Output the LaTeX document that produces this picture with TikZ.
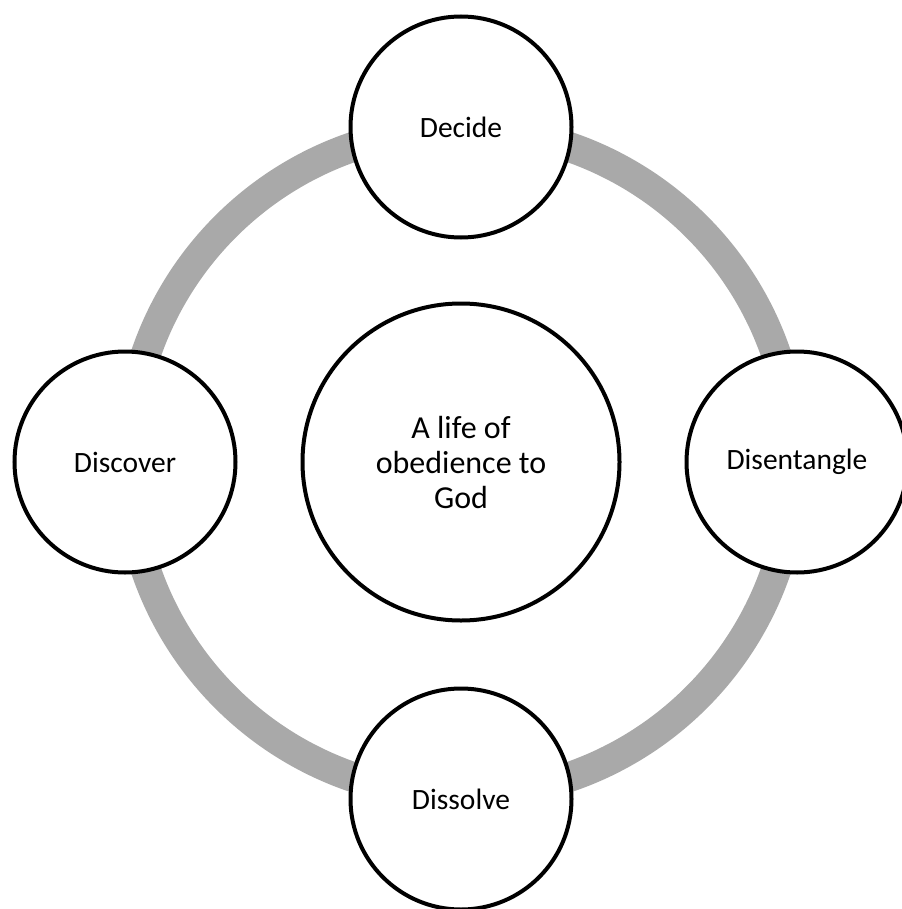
\documentclass[tikz,border=0pt]{standalone}
\usepackage{fontspec}
\setmainfont{Carlito}
\usepackage{tikz}
\usetikzlibrary{positioning}
\definecolor{ringgray}{RGB}{169,169,169}

\begin{document}
\begin{tikzpicture}[
    x=1pt, y=-1pt,
    font=\fontsize{29.5}{35}\selectfont,
    stage/.style  = {draw, circle, line width=4pt, fill=white,
                     minimum size=221pt, inner sep=0pt, align=center},
    hub/.style    = {stage, minimum size=317pt,
                     font=\fontsize{32}{35}\selectfont},
    ring/.style   = {draw=ringgray, line width=30pt}
]
\useasboundingbox (0,0) rectangle (901,909);

% ---------------- cycle ring ----------------
\coordinate (mid) at (461,462);
\draw[ring] (mid) circle[radius=333];

% ---------------- centre ----------------
\node[hub] (life) at (mid) {A life of\\obedience to\\God};

% ---------------- stages ----------------
\node[stage] (decide)      at (461,127) {Decide};
\node[stage] (disentangle) at (797,462) {Disentangle};
\node[stage] (dissolve)    at (461,799) {Dissolve};
\node[stage] (discover)    at (125,462) {Discover};

\end{tikzpicture}
\end{document}
